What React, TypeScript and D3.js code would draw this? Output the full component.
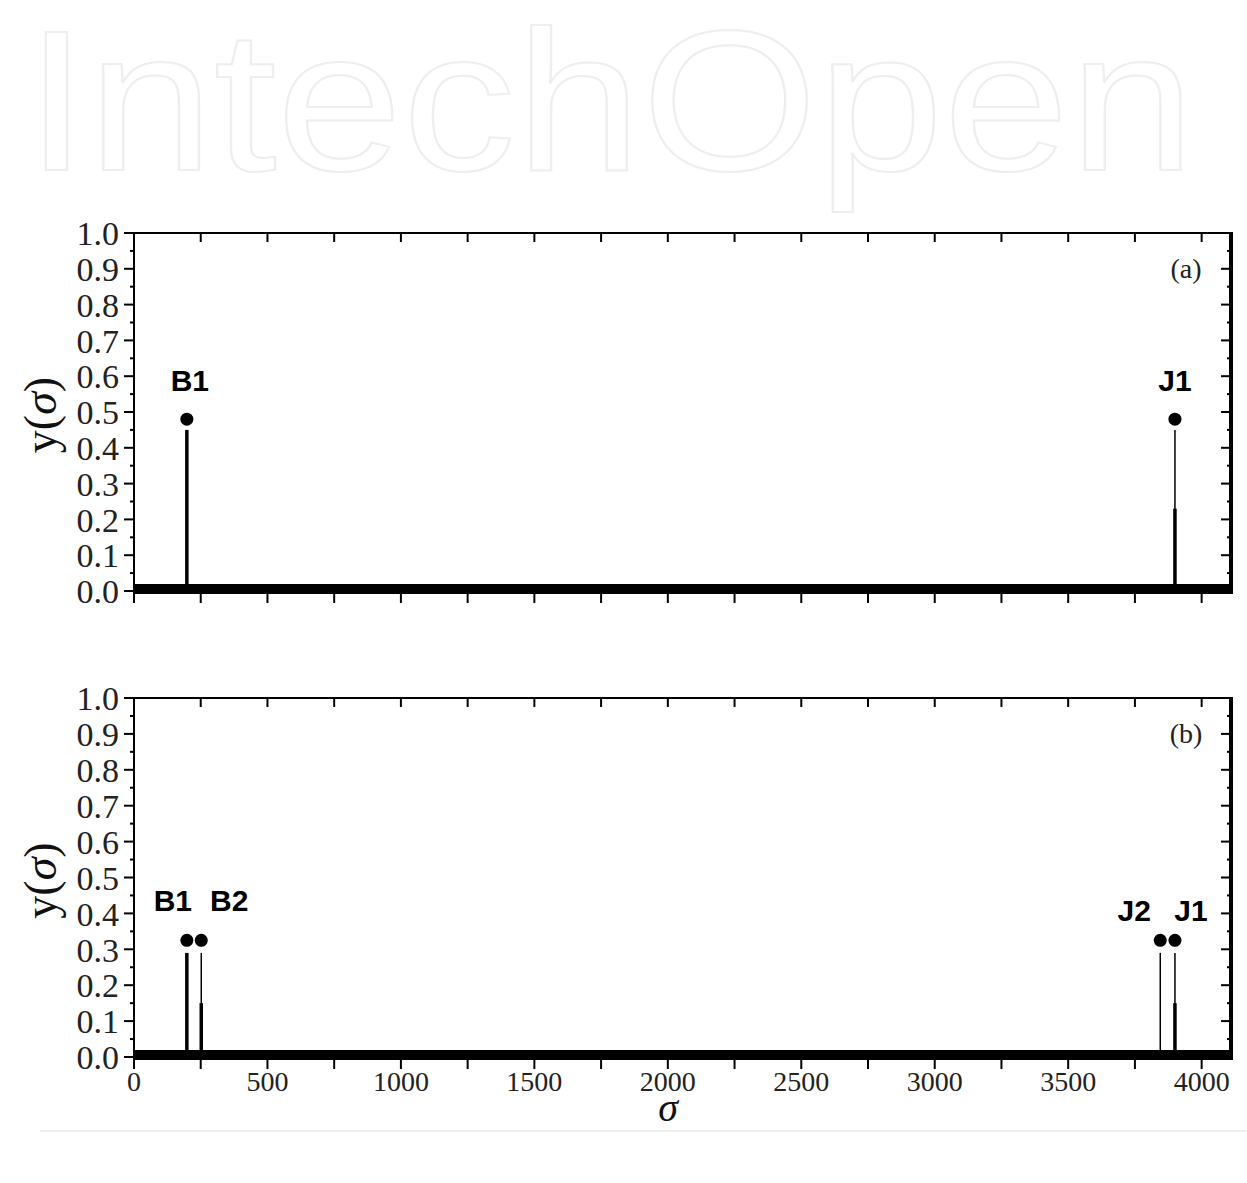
import { useRef, useEffect } from "react";
import * as d3 from "d3";

// x axis (sigma)
const sigmaMax = 4110;
const xMajorTicks = [0, 500, 1000, 1500, 2000, 2500, 3000, 3500, 4000];
const xMinorTicks = [250, 750, 1250, 1750, 2250, 2750, 3250, 3750];
const yMajorTicks = [0, 0.1, 0.2, 0.3, 0.4, 0.5, 0.6, 0.7, 0.8, 0.9, 1.0];
const yMinorTicks = [0.05, 0.15, 0.25, 0.35, 0.45, 0.55, 0.65, 0.75, 0.85, 0.95];

const panelNames = ["(a)", "(b)"];

// panel (a) peaks
const peakSigmaA = [198, 3900];
const peakDotA = [0.48, 0.48];
const stemTopA = [0.45, 0.45];
const thickTopA = [0.45, 0.23];
const peakLabelsA = ["B1", "J1"];

// panel (b) peaks
const peakSigmaB = [198, 252, 3845, 3900];
const peakDotB = [0.325, 0.325, 0.325, 0.325];
const stemTopB = [0.29, 0.29, 0.29, 0.29];
const thickTopB = [0.29, 0.15, 0, 0.15];
const peakLabelsB = ["B1", "B2", "J2", "J1"];

// label offsets (layout only)
const labelOffsetA = [[3, -28], [0, -28]];
const labelOffsetB = [[-14, -29], [28, -29], [-26, -19], [16, -19]];

export default function App() {
  const ref = useRef<SVGSVGElement>(null);

  useEffect(() => {
    if (!ref.current) return;
    const svg = d3.select(ref.current);
    svg.selectAll("*").remove();

    const width = 1247;
    const height = 1183;
    const left = 134;
    const right = 1231;
    const panels = [
      { top: 233, bottom: 591, sig: peakSigmaA, dot: peakDotA, stem: stemTopA, thick: thickTopA, labels: peakLabelsA, off: labelOffsetA },
      { top: 698, bottom: 1057, sig: peakSigmaB, dot: peakDotB, stem: stemTopB, thick: thickTopB, labels: peakLabelsB, off: labelOffsetB },
    ];

    svg.append("rect").attr("width", width).attr("height", height).attr("fill", "#fff");

    // faint watermark
    svg
      .append("text")
      .attr("x", 25)
      .attr("y", 170)
      .attr("textLength", 1170)
      .attr("lengthAdjust", "spacingAndGlyphs")
      .attr("font-family", "Liberation Sans, Arial, sans-serif")
      .attr("font-size", 200)
      .attr("fill", "none")
      .attr("stroke", "#eeeeee")
      .attr("stroke-width", 2)
      .text("IntechOpen");
    svg
      .append("line")
      .attr("x1", 40)
      .attr("x2", width)
      .attr("y1", 1131)
      .attr("y2", 1131)
      .attr("stroke", "#eeeeee")
      .attr("stroke-width", 2);

    const x = d3.scaleLinear().domain([0, sigmaMax]).range([left, right]);

    panels.forEach((p, pi) => {
      const y = d3.scaleLinear().domain([0, 1]).range([p.bottom, p.top]);
      const g = svg.append("g");

      // thick data baseline
      g.append("line")
        .attr("x1", x(0))
        .attr("x2", x(sigmaMax))
        .attr("y1", y(0) - 2)
        .attr("y2", y(0) - 2)
        .attr("stroke", "#000")
        .attr("stroke-width", 10);

      // frame
      g.append("line").attr("x1", left).attr("x2", right).attr("y1", p.top).attr("y2", p.top)
        .attr("stroke", "#000").attr("stroke-width", 2);
      g.append("line").attr("x1", left).attr("x2", left).attr("y1", p.top).attr("y2", p.bottom + 4)
        .attr("stroke", "#000").attr("stroke-width", 2);
      g.append("line").attr("x1", right).attr("x2", right).attr("y1", p.top - 1).attr("y2", p.bottom + 3)
        .attr("stroke", "#000").attr("stroke-width", 4);

      // x ticks top (inward) and bottom (outward)
      [...xMajorTicks, ...xMinorTicks].forEach((t) => {
        g.append("line").attr("x1", x(t)).attr("x2", x(t)).attr("y1", p.top).attr("y2", p.top + 9)
          .attr("stroke", "#000").attr("stroke-width", 2);
        g.append("line").attr("x1", x(t)).attr("x2", x(t)).attr("y1", p.bottom).attr("y2", p.bottom + 12)
          .attr("stroke", "#000").attr("stroke-width", 2);
      });

      // y ticks
      yMajorTicks.forEach((t) => {
        g.append("line").attr("x1", left - 10).attr("x2", left).attr("y1", y(t)).attr("y2", y(t))
          .attr("stroke", "#000").attr("stroke-width", 2);
        g.append("line").attr("x1", right - 10).attr("x2", right).attr("y1", y(t)).attr("y2", y(t))
          .attr("stroke", "#000").attr("stroke-width", 2);
        g.append("text")
          .attr("x", 119)
          .attr("y", y(t))
          .attr("dy", "0.36em")
          .attr("text-anchor", "end")
          .attr("font-family", "Liberation Serif, Times New Roman, serif")
          .attr("font-size", 34)
          .attr("fill", "#222")
          .text(d3.format(".1f")(t));
      });
      yMinorTicks.forEach((t) => {
        g.append("line").attr("x1", left - 4).attr("x2", left).attr("y1", y(t)).attr("y2", y(t))
          .attr("stroke", "#000").attr("stroke-width", 2);
        g.append("line").attr("x1", right - 4).attr("x2", right).attr("y1", y(t)).attr("y2", y(t))
          .attr("stroke", "#000").attr("stroke-width", 2);
      });

      // y label
      const yl = g.append("text")
        .attr("transform", `translate(56,${(p.top + p.bottom) / 2 + 3}) rotate(-90)`)
        .attr("text-anchor", "middle")
        .attr("font-family", "Liberation Serif, Times New Roman, serif")
        .attr("font-size", 46)
        .attr("fill", "#111");
      yl.append("tspan").text("y(");
      yl.append("tspan").attr("font-style", "italic").text("σ");
      yl.append("tspan").text(")");

      // panel tag
      g.append("text")
        .attr("x", 1186)
        .attr("y", p.top + 45)
        .attr("text-anchor", "middle")
        .attr("font-family", "Liberation Serif, Times New Roman, serif")
        .attr("font-size", 28)
        .attr("fill", "#222")
        .text(panelNames[pi]);

      // peaks
      p.sig.forEach((s, i) => {
        g.append("line")
          .attr("x1", x(s)).attr("x2", x(s))
          .attr("y1", y(0) - 6).attr("y2", y(p.stem[i]))
          .attr("stroke", "#000").attr("stroke-width", 1.5);
        if (p.thick[i] > 0) {
          g.append("line")
            .attr("x1", x(s)).attr("x2", x(s))
            .attr("y1", y(0) - 6).attr("y2", y(p.thick[i]))
            .attr("stroke", "#000").attr("stroke-width", 3.5);
        }
        g.append("circle")
          .attr("cx", x(s))
          .attr("cy", y(p.dot[i]))
          .attr("r", 6.5)
          .attr("fill", "#000");
        g.append("text")
          .attr("x", x(s) + p.off[i][0])
          .attr("y", y(p.dot[i]) + p.off[i][1])
          .attr("text-anchor", "middle")
          .attr("font-family", "Liberation Sans, Arial, sans-serif")
          .attr("font-weight", "bold")
          .attr("font-size", 30)
          .attr("fill", "#000")
          .text(p.labels[i]);
      });

      // x tick labels only on bottom panel
      if (pi === 1) {
        xMajorTicks.forEach((t) => {
          g.append("text")
            .attr("x", x(t))
            .attr("y", 1091)
            .attr("text-anchor", "middle")
            .attr("font-family", "Liberation Serif, Times New Roman, serif")
            .attr("font-size", 28)
            .attr("fill", "#222")
            .text(String(t));
        });
        g.append("text")
          .attr("x", 668)
          .attr("y", 1121)
          .attr("text-anchor", "middle")
          .attr("font-family", "Liberation Serif, Times New Roman, serif")
          .attr("font-style", "italic")
          .attr("font-size", 40)
          .attr("fill", "#111")
          .text("σ");
      }
    });
  }, []);

  return (
    <div>
      <svg ref={ref} width={1247} height={1183} style={{ position: "absolute", left: 0, top: 0 }} />
    </div>
  );
}
